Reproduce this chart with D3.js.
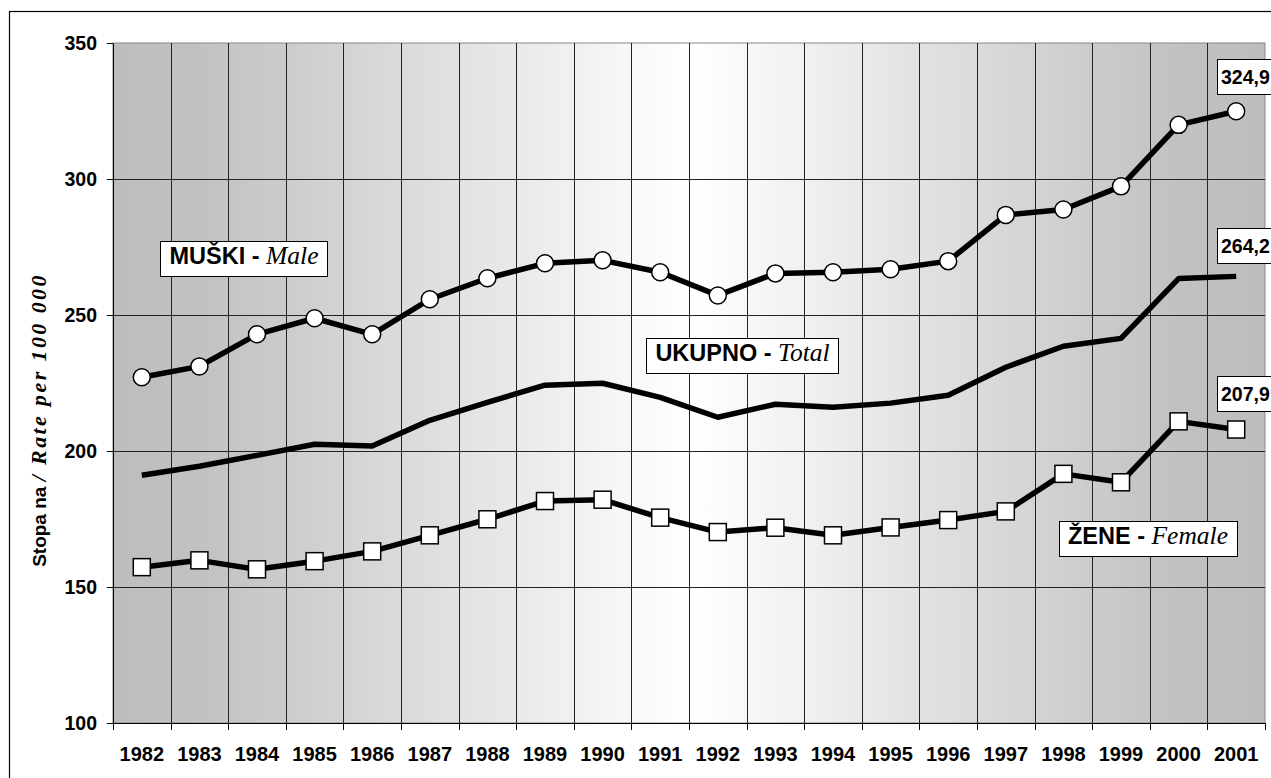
<!DOCTYPE html>
<html>
<head>
<meta charset="utf-8">
<script src="https://cdn.jsdelivr.net/npm/d3@7"></script>
<style>
  body { margin: 0; background: #fff; }
  svg text { font-family: "Liberation Sans", Arial, sans-serif; font-weight: bold; fill: #000; }
  svg .it { font-family: "Liberation Serif", "Times New Roman", serif; font-style: italic; font-weight: normal; }
</style>
</head>
<body>
<svg id="chart" width="1271" height="778"></svg>
<script>
var years = ["1982", "1983", "1984", "1985", "1986", "1987", "1988", "1989", "1990", "1991",
             "1992", "1993", "1994", "1995", "1996", "1997", "1998", "1999", "2000", "2001"];
var maleRates = [227.1, 231.1, 242.9, 248.8, 242.9, 255.8, 263.5, 269.0, 270.1, 265.7,
                 257.2, 265.3, 265.7, 266.8, 269.8, 286.8, 288.8, 297.3, 319.9, 324.9];
var totalRates = [191.1, 194.4, 198.4, 202.5, 201.8, 211.3, 217.9, 224.2, 224.9, 219.7,
                  212.4, 217.2, 216.1, 217.6, 220.5, 230.8, 238.5, 241.4, 263.4, 264.2];
var femaleRates = [157.3, 159.8, 156.5, 159.5, 163.1, 169.0, 174.9, 181.6, 182.1, 175.5,
                   170.2, 171.8, 169.0, 171.9, 174.6, 177.8, 191.6, 188.5, 210.9, 207.9];
var yTicks = [100, 150, 200, 250, 300, 350];
var endLabels = ["324,9", "264,2", "207,9"];

var plot = {left: 113, right: 1265, top: 43, bottom: 723};
var svg = d3.select("#chart");

var x = d3.scaleBand().domain(years).range([plot.left, plot.right]);
var y = d3.scaleLinear().domain([100, 350]).range([plot.bottom, plot.top]);

function cx(d, i) {
    return x(years[i]) + x.bandwidth() / 2;
}

// outer chart frame
svg.append("rect")
    .attr("x", 9.5).attr("y", 11.5)
    .attr("width", 1275).attr("height", 780)
    .attr("fill", "none").attr("stroke", "#000").attr("stroke-width", 1.2);

function drawBackground() {
    var grad = svg.append("defs").append("linearGradient")
        .attr("id", "plotBg")
        .attr("x1", "0%").attr("x2", "100%").attr("y1", "0%").attr("y2", "0%");
    grad.append("stop").attr("offset", "0%").attr("stop-color", "#bdbdbd");
    grad.append("stop").attr("offset", "8%").attr("stop-color", "#c2c2c2");
    grad.append("stop").attr("offset", "50%").attr("stop-color", "#ffffff");
    grad.append("stop").attr("offset", "92%").attr("stop-color", "#c2c2c2");
    grad.append("stop").attr("offset", "100%").attr("stop-color", "#bdbdbd");

    svg.append("rect")
        .attr("x", plot.left).attr("y", plot.top)
        .attr("width", plot.right - plot.left).attr("height", plot.bottom - plot.top)
        .attr("fill", "url(#plotBg)")
        .attr("stroke", "#888").attr("stroke-width", 1);
}

function drawGrid() {
    svg.append("g").selectAll("line")
        .data(yTicks.slice(1, -1))
        .enter()
        .append("line")
        .attr("x1", plot.left).attr("x2", plot.right)
        .attr("y1", function (d) { return Math.round(y(d)) + 0.5; })
        .attr("y2", function (d) { return Math.round(y(d)) + 0.5; })
        .attr("stroke", "#222").attr("stroke-width", 1);

    svg.append("g").selectAll("line")
        .data(years.slice(1))
        .enter()
        .append("line")
        .attr("x1", function (d) { return Math.round(x(d)) + 0.5; })
        .attr("x2", function (d) { return Math.round(x(d)) + 0.5; })
        .attr("y1", plot.top).attr("y2", plot.bottom)
        .attr("stroke", "#222").attr("stroke-width", 1);
}

function drawAxes() {
    var yAxis = svg.append("g")
        .attr("transform", "translate(" + plot.left + ",0)")
        .call(d3.axisLeft(y).tickValues(yTicks).tickSize(6).tickSizeOuter(0).tickPadding(10));
    yAxis.attr("font-family", null).attr("font-size", null);
    yAxis.selectAll("text").style("font-size", "19.5px");
    yAxis.selectAll("line, path").attr("stroke", "#000");

    var xAxis = svg.append("g")
        .attr("transform", "translate(0," + plot.bottom + ")")
        .call(d3.axisBottom(x).tickSize(0).tickSizeOuter(0).tickPadding(24));
    xAxis.attr("font-family", null).attr("font-size", null);
    xAxis.selectAll("text").style("font-size", "20px");
    xAxis.select("path").attr("stroke", "#000");

    // tick marks sit on the category boundaries
    var edges = years.map(function (d) { return x(d); }).concat([plot.right]);
    xAxis.selectAll("line.edge")
        .data(edges)
        .enter()
        .append("line")
        .attr("class", "edge")
        .attr("x1", function (d) { return Math.round(d) + 0.5; })
        .attr("x2", function (d) { return Math.round(d) + 0.5; })
        .attr("y1", 0).attr("y2", 7)
        .attr("stroke", "#000");

    var title = svg.append("text")
        .attr("transform", "translate(46,420) rotate(-90)")
        .attr("text-anchor", "middle");
    title.append("tspan").style("font-size", "19px").text("Stopa na ");
    title.append("tspan").attr("class", "it").style("font-weight", "bold")
        .style("font-size", "22px").style("letter-spacing", "2.4px")
        .text("/ Rate per 100 000");
}

function drawSeries(values, marker) {
    var line = d3.line()
        .x(cx)
        .y(function (d) { return y(d); });

    svg.append("path")
        .datum(values)
        .attr("d", line)
        .attr("fill", "none")
        .attr("stroke", "#000")
        .attr("stroke-width", 5.5)
        .attr("stroke-linejoin", "round");

    if (marker === "circle") {
        svg.append("g").selectAll("circle")
            .data(values)
            .enter()
            .append("circle")
            .attr("cx", cx)
            .attr("cy", function (d) { return y(d); })
            .attr("r", 8.5)
            .attr("fill", "#fff").attr("stroke", "#000").attr("stroke-width", 1.5);
    } else if (marker === "square") {
        svg.append("g").selectAll("rect")
            .data(values)
            .enter()
            .append("rect")
            .attr("x", function (d, i) { return cx(d, i) - 8.5; })
            .attr("y", function (d) { return y(d) - 8.5; })
            .attr("width", 17).attr("height", 17)
            .attr("fill", "#fff").attr("stroke", "#000").attr("stroke-width", 1.5);
    }
}

// boxed series name, centred on (px, py)
function drawTag(px, py, boldPart, italicPart) {
    var g = svg.append("g");
    var box = g.append("rect");
    var t = g.append("text")
        .attr("x", px).attr("y", py)
        .attr("text-anchor", "middle")
        .attr("dy", "0.36em");
    t.append("tspan").style("font-size", "23.5px").text(boldPart);
    t.append("tspan").attr("class", "it").style("font-size", "25.5px").text(italicPart);
    var bb = t.node().getBBox();
    box.attr("x", Math.round(bb.x - 9) + 0.5).attr("y", Math.round(py - 17.5) + 0.5)
        .attr("width", Math.round(bb.width + 18)).attr("height", 35)
        .attr("fill", "#fff").attr("stroke", "#000").attr("stroke-width", 1);
}

// boxed value at the end of a series
function drawValue(label, py) {
    var g = svg.append("g");
    var box = g.append("rect");
    var t = g.append("text")
        .attr("x", 1221).attr("y", py)
        .attr("dy", "0.36em")
        .style("font-size", "19.5px")
        .text(label);
    var bb = t.node().getBBox();
    box.attr("x", 1217.5).attr("y", Math.round(py - 17.5) + 0.5)
        .attr("width", bb.width + 10).attr("height", 35)
        .attr("fill", "#fff").attr("stroke", "#000").attr("stroke-width", 1);
}

drawBackground();
drawGrid();
drawAxes();
drawSeries(totalRates, "none");
drawSeries(maleRates, "circle");
drawSeries(femaleRates, "square");

drawTag(244, 258.5, "MUŠKI - ", "Male");
drawTag(742.5, 355, "UKUPNO - ", "Total");
drawTag(1148, 538.5, "ŽENE - ", "Female");

drawValue(endLabels[0], 76.5);
drawValue(endLabels[1], 245.5);
drawValue(endLabels[2], 393.5);
</script>
</body>
</html>
